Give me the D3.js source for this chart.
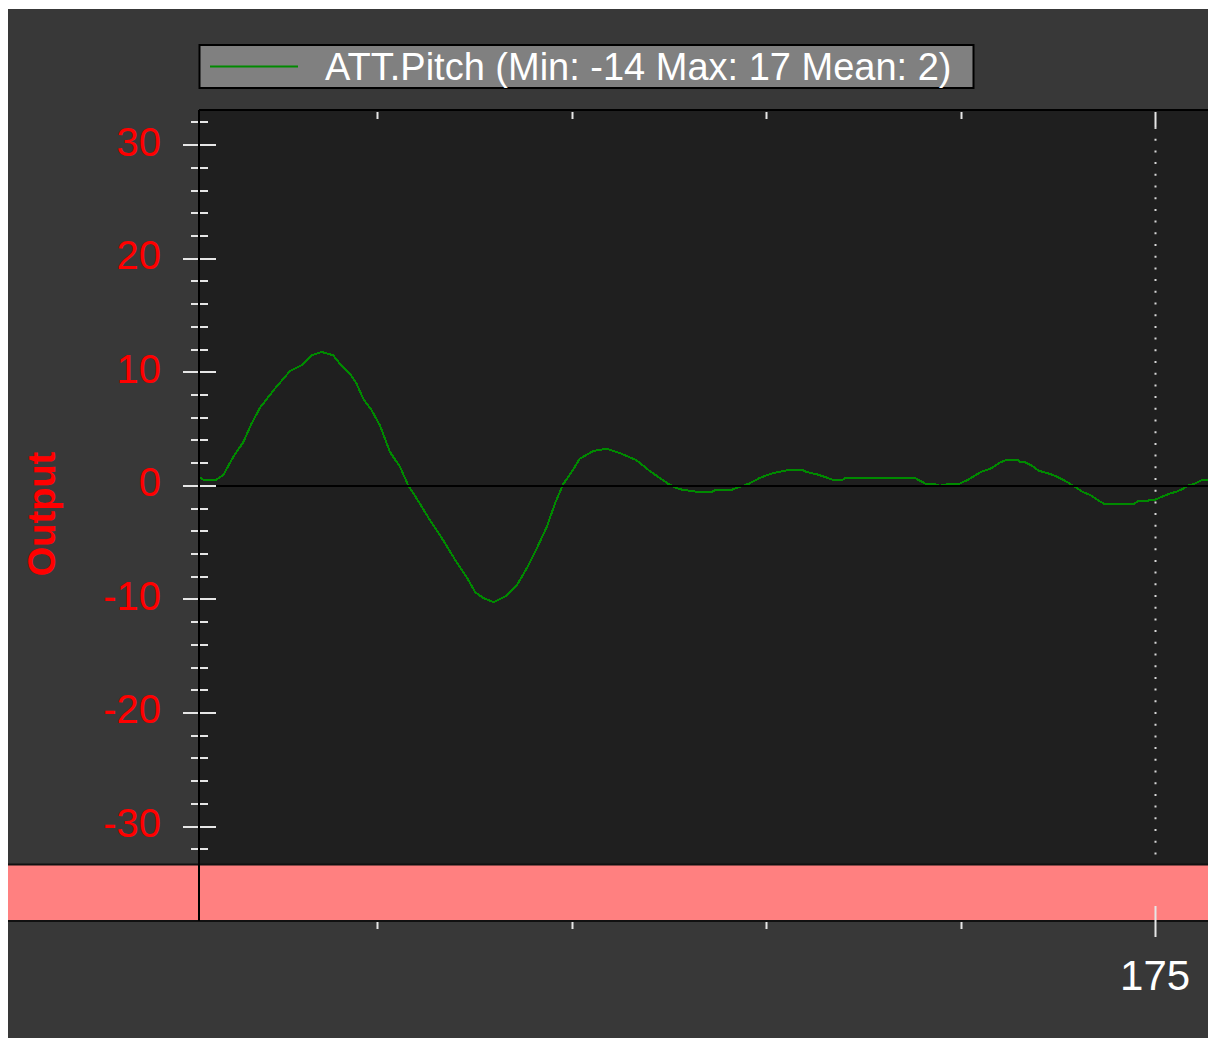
<!DOCTYPE html>
<html><head><meta charset="utf-8">
<script src="https://cdn.jsdelivr.net/npm/d3@7"></script>
<style>html,body{margin:0;padding:0;background:#fff;}svg{display:block;}</style>
</head><body>
<svg id="c" width="1208" height="1038"></svg>
<script>
// ---- data ----
const seriesName = "ATT.Pitch";
const seriesStats = ["Min: -14", "Max: 17", "Mean: 2"];
const times = [150.45,150.49,150.57,150.83,151.04,151.30,151.56,151.77,151.99,152.37,152.76,153.06,153.32,153.57,153.87,154.04,154.30,154.47,154.64,154.86,155.07,155.33,155.59,155.80,156.10,156.36,156.70,157.04,157.30,157.52,157.73,157.99,158.29,158.59,158.84,159.10,159.36,159.57,159.79,160.00,160.21,160.56,160.90,161.24,161.67,162.01,162.48,162.70,162.84,163.20,163.62,163.71,164.12,164.26,164.56,164.85,165.12,165.31,165.58,165.95,166.04,166.31,166.59,166.73,166.95,167.04,167.93,168.83,168.97,169.10,169.29,169.47,169.70,169.97,170.06,170.20,170.34,170.52,170.80,171.02,171.16,171.48,171.53,171.66,171.85,171.99,172.12,172.31,172.44,172.63,172.81,172.99,173.13,173.36,173.54,173.68,174.46,174.55,174.78,174.87,175.00,175.19,175.37,175.55,175.74,175.83,176.01,176.19,176.36];
const pitch = [0.78,0.6,0.48,0.48,0.93,2.54,3.86,5.48,6.89,8.56,10.11,10.62,11.5,11.79,11.5,10.77,9.89,9.0,7.68,6.65,5.33,2.98,1.66,0.04,-1.57,-3.04,-4.8,-6.71,-8.03,-9.36,-9.88,-10.24,-9.74,-8.77,-7.3,-5.53,-3.63,-1.57,0.19,1.22,2.4,3.07,3.28,2.89,2.25,1.3,0.19,-0.19,-0.34,-0.51,-0.51,-0.34,-0.34,-0.16,0.19,0.72,1.07,1.22,1.39,1.37,1.22,1.01,0.69,0.51,0.51,0.69,0.69,0.69,0.42,0.19,0.19,0.0,0.19,0.19,0.34,0.55,0.86,1.22,1.57,2.07,2.25,2.25,2.07,2.07,1.74,1.37,1.22,1.04,0.86,0.55,0.19,-0.19,-0.51,-0.86,-1.28,-1.57,-1.57,-1.37,-1.37,-1.22,-1.22,-0.93,-0.69,-0.51,-0.22,0.0,0.19,0.48,0.55];
const yMajorTicks = [-30,-20,-10,0,10,20,30];
const yMinorTicks = [-32,-28,-26,-24,-22,-18,-16,-14,-12,-8,-6,-4,-2,2,4,6,8,12,14,16,18,22,24,26,28,32];
const yTickLabels = ["-30","-20","-10","0","10","20","30"];
const xMinorTicks = [155,160,165,170];
const xMajorTicks = [175];
const xTickLabels = ["175"];
const yTitle = "Output";

// ---- layout ----
const W = 1208, H = 1038;
const plot = {l:199, t:110, r:1208, b:864};
const band = {t:864, b:921};
const svg = d3.select("#c");

const x = d3.scaleLinear().domain([150.42, 176.36]).range([plot.l, plot.r]);
const y = d3.scaleLinear().domain([-33.3, 33.1]).range([plot.b, plot.t]);

svg.append("rect").attr("x",0).attr("y",0).attr("width",W).attr("height",H).attr("fill","#ffffff");
svg.append("rect").attr("x",8).attr("y",9).attr("width",W-8).attr("height",H-9).attr("fill","#383838");

// legend
const lg = svg.append("g");
lg.append("rect").attr("x",199.5).attr("y",45).attr("width",774).attr("height",43)
  .attr("fill","#808080").attr("stroke","#000").attr("stroke-width",2);
lg.append("line").attr("x1",210).attr("x2",298).attr("y1",66.5).attr("y2",66.5)
  .attr("stroke","#008a00").attr("stroke-width",2);
lg.append("text").attr("x",325).attr("y",80)
  .attr("font-family","Liberation Sans, Arial, sans-serif").attr("font-size",38).attr("fill","#ffffff")
  .text(`${seriesName} (${seriesStats.join(" ")})`);

// plot area
svg.append("rect").attr("x",plot.l).attr("y",plot.t).attr("width",plot.r-plot.l).attr("height",plot.b-plot.t)
  .attr("fill","#1f1f1f");
// band
svg.append("rect").attr("x",8).attr("y",band.t).attr("width",W-8).attr("height",band.b-band.t)
  .attr("fill","#ff8080");
// borders
svg.append("line").attr("x1",plot.l).attr("x2",W).attr("y1",plot.t).attr("y2",plot.t).attr("stroke","#000").attr("stroke-width",2);
svg.append("line").attr("x1",8).attr("x2",W).attr("y1",band.t+0.5).attr("y2",band.t+0.5).attr("stroke","#111").attr("stroke-width",2);
svg.append("line").attr("x1",8).attr("x2",W).attr("y1",band.b).attr("y2",band.b).attr("stroke","#111").attr("stroke-width",2);

// dotted grid line at major x tick
svg.selectAll(".grid").data(xMajorTicks).join("line")
  .attr("x1",d=>Math.round(x(d))+0.5).attr("x2",d=>Math.round(x(d))+0.5)
  .attr("y1",plot.t+17).attr("y2",plot.b)
  .attr("stroke","#d8d8d8").attr("stroke-width",2).attr("stroke-dasharray","2,9.7");

// curve
svg.append("clipPath").attr("id","clip").append("rect")
  .attr("x",plot.l+1).attr("y",plot.t+1).attr("width",plot.r-plot.l).attr("height",plot.b-plot.t-1);
const data = times.map((t,i)=>({t, v:pitch[i]}));
svg.append("path").datum(data).attr("clip-path","url(#clip)")
  .attr("fill","none").attr("stroke","#008a00").attr("stroke-width",2)
  .attr("shape-rendering","crispEdges")
  .attr("d", d3.line().x(d=>x(d.t)).y(d=>y(d.v)));

// zero line
svg.append("line").attr("x1",plot.l).attr("x2",plot.r).attr("y1",Math.round(y(0))).attr("y2",Math.round(y(0)))
  .attr("stroke","#000").attr("stroke-width",2);

// y axis line
svg.append("line").attr("x1",plot.l).attr("x2",plot.l).attr("y1",plot.t).attr("y2",band.b)
  .attr("stroke","#000").attr("stroke-width",2);

// y ticks
const tickCol = "#e6e6e6";
svg.selectAll(".ymaj").data(yMajorTicks).join("line")
  .attr("x1",plot.l-16).attr("x2",plot.l+17)
  .attr("y1",d=>Math.round(y(d))).attr("y2",d=>Math.round(y(d)))
  .attr("stroke",tickCol).attr("stroke-width",2);
svg.selectAll(".ymin").data(yMinorTicks).join("line")
  .attr("x1",plot.l-8).attr("x2",plot.l+9)
  .attr("y1",d=>Math.round(y(d))).attr("y2",d=>Math.round(y(d)))
  .attr("stroke",tickCol).attr("stroke-width",2);
// redraw axis line over ticks
svg.append("line").attr("x1",plot.l).attr("x2",plot.l).attr("y1",plot.t).attr("y2",plot.b)
  .attr("stroke","#000").attr("stroke-width",2);

// y labels
svg.selectAll(".ylab").data(yMajorTicks).join("text")
  .attr("x",161).attr("y",d=>y(d)+10.5).attr("text-anchor","end")
  .attr("font-family","Liberation Sans, Arial, sans-serif").attr("font-size",40).attr("fill","#ff0000")
  .text((d,i)=>yTickLabels[i]);

// y title
svg.append("text").attr("transform","translate(55,514) rotate(-90)")
  .attr("text-anchor","middle")
  .attr("font-family","Liberation Sans, Arial, sans-serif").attr("font-weight","bold").attr("font-size",38).attr("fill","#ff0000")
  .text(yTitle);

// x ticks top
svg.selectAll(".xtmin").data(xMinorTicks).join("line")
  .attr("x1",d=>Math.round(x(d))+0.5).attr("x2",d=>Math.round(x(d))+0.5)
  .attr("y1",plot.t+2).attr("y2",plot.t+9).attr("stroke",tickCol).attr("stroke-width",2);
svg.selectAll(".xtmaj").data(xMajorTicks).join("line")
  .attr("x1",d=>Math.round(x(d))+0.5).attr("x2",d=>Math.round(x(d))+0.5)
  .attr("y1",plot.t+2).attr("y2",plot.t+17).attr("stroke",tickCol).attr("stroke-width",2);
// x ticks bottom
svg.selectAll(".xbmin").data(xMinorTicks).join("line")
  .attr("x1",d=>Math.round(x(d))+0.5).attr("x2",d=>Math.round(x(d))+0.5)
  .attr("y1",band.b+1).attr("y2",band.b+8).attr("stroke",tickCol).attr("stroke-width",2);
svg.selectAll(".xbmaj").data(xMajorTicks).join("line")
  .attr("x1",d=>Math.round(x(d))+0.5).attr("x2",d=>Math.round(x(d))+0.5)
  .attr("y1",band.b-15).attr("y2",band.b+16).attr("stroke",tickCol).attr("stroke-width",2);

// x labels
svg.selectAll(".xlab").data(xMajorTicks).join("text")
  .attr("x",d=>x(d)).attr("y",990).attr("text-anchor","middle")
  .attr("font-family","Liberation Sans, Arial, sans-serif").attr("font-size",42).attr("fill","#ffffff")
  .text((d,i)=>xTickLabels[i]);
</script>
</body></html>
